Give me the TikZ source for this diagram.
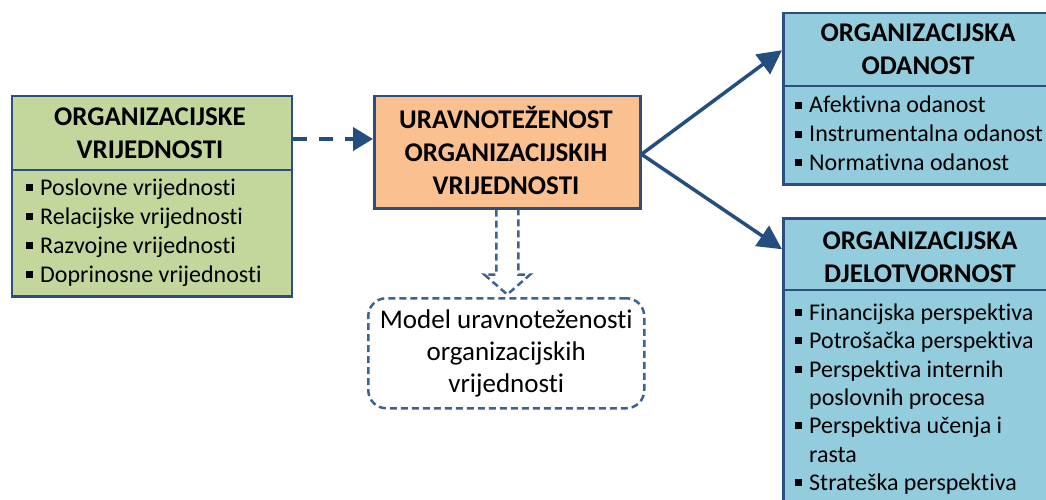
\documentclass[tikz,border=0pt]{standalone}
\usepackage{fontspec}
\setmainfont{Carlito}[Ligatures=NoCommon]
\usetikzlibrary{arrows.meta,calc}
\definecolor{cgreen}{HTML}{C3D69B}
\definecolor{corange}{HTML}{FAC090}
\definecolor{cblue}{HTML}{93CDDD}
\definecolor{cframe}{HTML}{2B4F7E}
\definecolor{carrow}{HTML}{254E80}
\definecolor{cdash}{HTML}{3D6390}
% square list bullet followed by the gap before the item text
\newcommand\blt{\makebox[14pt][l]{\rule[4pt]{7pt}{7pt}}}
\tikzset{
  box/.style={draw=cframe, line width=2.5pt, inner sep=0pt},
  divider/.style={draw=cframe, line width=2.5pt},
  heading/.style={align=center, inner sep=0pt, font=\fontsize{27}{33}\selectfont\bfseries},
  entry/.style={anchor=base west, inner sep=0pt, font=\fontsize{24}{29}\selectfont},
  flow/.style={draw=carrow, line width=3.5pt, -{Triangle[length=24pt,width=24pt]}},
  dashflow/.style={draw=carrow, line width=4pt, dash pattern=on 14pt off 12pt,
    -{Triangle[length=20pt,width=23pt]}},
  hollow/.style={draw=cdash, line width=2.5pt, dash pattern=on 7pt off 4pt, line join=miter},
  note/.style={draw=cdash, line width=2.5pt, dash pattern=on 7pt off 4pt,
    rounded corners=18pt, align=center, inner sep=0pt,
    font=\fontsize{27}{32}\selectfont}
}
\begin{document}
\begin{tikzpicture}[x=1pt,y=-1pt]
\useasboundingbox (0,0) rectangle (1046,500);
\clip (0,0) rectangle (1046,500);

% left block: organisational values
\node[box, fill=cgreen, minimum width=280pt, minimum height=200pt, anchor=north west] (vals) at (10.5,95) {};
\draw[divider] (vals.west |- 0,170) -- (vals.east |- 0,170);
\node[heading] (valsT) at (150,133) {ORGANIZACIJSKE\\VRIJEDNOSTI};
\node[entry] (v1) at (26,195) {\blt Poslovne vrijednosti};
\node[entry] (v2) at (26,224) {\blt Relacijske vrijednosti};
\node[entry] (v3) at (26,253) {\blt Razvojne vrijednosti};
\node[entry] (v4) at (26,282) {\blt Doprinosne vrijednosti};

% central block
\node[box, fill=corange, minimum width=266pt, minimum height=112pt, anchor=north west] (bal) at (373,95) {};
\node[heading] (balT) at (506,150) {URAVNOTEŽENOST\\ORGANIZACIJSKIH\\VRIJEDNOSTI};

% top right block: commitment
\node[box, fill=cblue, minimum width=300pt, minimum height=171pt, anchor=north west] (com) at (782,12) {};
\draw[divider] (com.west |- 0,86) -- (com.east |- 0,86);
\node[heading] (comT) at (918,49) {ORGANIZACIJSKA\\ODANOST};
\node[entry] (c1) at (795,113) {\blt Afektivna odanost};
\node[entry] (c2) at (795,142) {\blt Instrumentalna odanost};
\node[entry] (c3) at (795,170) {\blt Normativna odanost};

% bottom right block: effectiveness
\node[box, fill=cblue, minimum width=300pt, minimum height=320pt, anchor=north west] (eff) at (782,217) {};
\draw[divider] (eff.west |- 0,290) -- (eff.east |- 0,290);
\node[heading] (effT) at (920,257) {ORGANIZACIJSKA\\DJELOTVORNOST};
\node[entry] (e1) at (795,320) {\blt Financijska perspektiva};
\node[entry] (e2) at (795,348) {\blt Potrošačka perspektiva};
\node[entry] (e3) at (795,377) {\blt Perspektiva internih};
\node[entry] (e3b) at (809,405) {poslovnih procesa};
\node[entry] (e4) at (795,433) {\blt Perspektiva učenja i};
\node[entry] (e4b) at (809,462) {rasta};
\node[entry] (e5) at (795,490) {\blt Strateška perspektiva};

% model note
\node[note, minimum width=276pt, minimum height=110pt, anchor=north west] (model) at (367,297)
  {Model uravnoteženosti\\organizacijskih\\vrijednosti};

% connectors
\draw[dashflow] (vals.east |- 0,139) -- (bal.west |- 0,139);
\draw[flow] ($(bal.east)+(0,2)$) -- ($(com.north west)!0.22!(com.south west)$);
\draw[flow] ($(bal.east)+(0,2)$) -- ($(eff.north west)!0.10!(eff.south west)$);
\draw[hollow] ($(bal.south)+(-11,0)$) -- ++(0,65) -- ++(-12,0) -- ($(bal.south)+(0,85)$)
  -- ($(bal.south)+(23,65)$) -- ++(-12,0) -- ($(bal.south)+(11,0)$);
\end{tikzpicture}
\end{document}
